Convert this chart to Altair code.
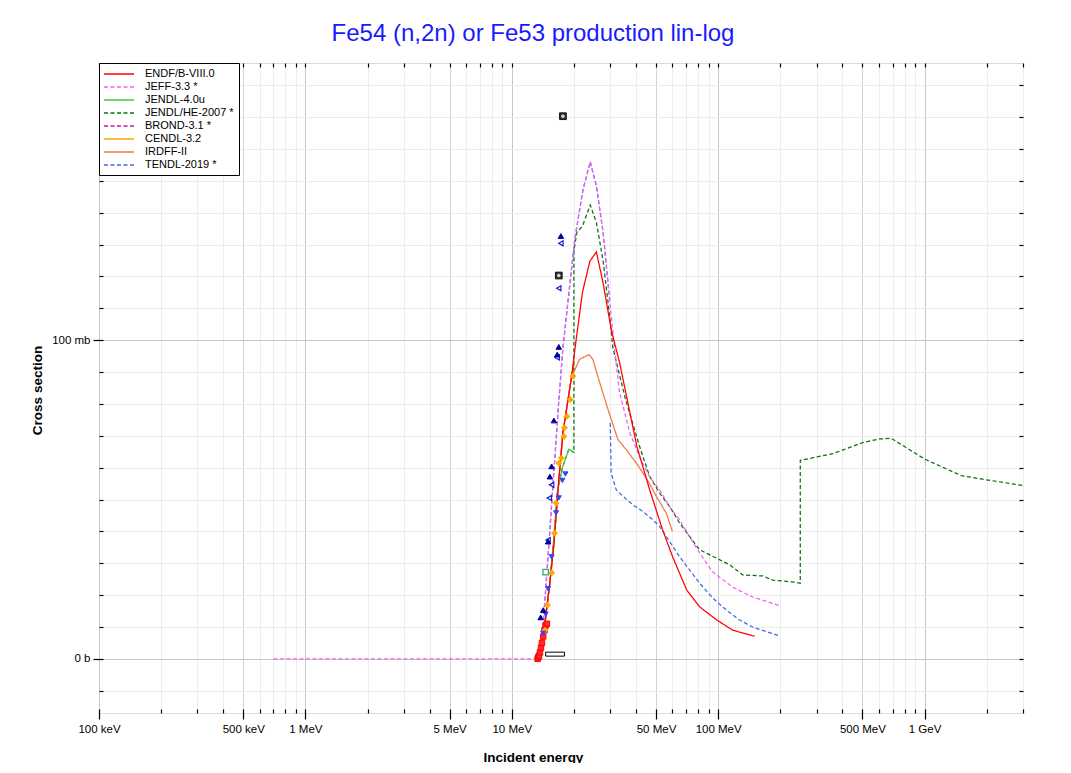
import altair as alt
import pandas as pd

TITLE = "Fe54 (n,2n) or Fe53 production lin-log"
X_TITLE = "Incident energy"
Y_TITLE = "Cross section"

libs = ["ENDF/B-VIII.0", "JEFF-3.3 *", "JENDL-4.0u", "JENDL/HE-2007 *",
        "BROND-3.1 *", "CENDL-3.2", "IRDFF-II", "TENDL-2019 *"]
lib_colors = ["#ff0000", "#f65cf6", "#3ccc3c", "#0b700b",
              "#cc1199", "#ffa500", "#f07848", "#4169e1"]
lib_dash = [[1, 0], [4, 2.5], [1, 0], [4, 2.5], [4, 2.5], [1, 0], [1, 0], [4, 2.5]]

# energies in MeV, cross sections in mb
endf_e = [13.6, 14.4, 15.3, 16.0, 16.9, 17.7, 18.7, 19.4, 20.4, 22.0, 23.9, 25.7, 27.7,
          30.4, 33.3, 40.3, 46.6, 53.8, 60.2, 70.4, 81.4, 98.4, 117.5, 150]
endf_s = [0, 10, 24, 36, 56, 71, 81, 87.6, 99, 115, 124.8, 127.7, 118,
          103, 93, 66.9, 53, 40.5, 32, 21.6, 16.3, 12.2, 9.0, 7.1]

jeff_e = [0.7, 13.6, 13.9, 15.1, 16.9, 17.7, 20.2, 22.1, 24.0, 25.7, 27.7, 29.8, 31.5,
          33.3, 37.3, 41.6, 46.6, 52.1, 58.2, 65.1, 72.7, 81.4, 88, 94, 117.5, 147, 200]
jeff_s = [0, 0, 2.7, 35, 81, 97.7, 131.7, 147, 156, 148.4, 133.9, 112.8, 97,
          83.5, 71, 63.4, 57, 53, 47.7, 43.6, 38.3, 33.2, 30, 27.3, 22.5, 19.4, 16.6]

jendl4_e = [13.6, 14.4, 15.3, 16.0, 16.6, 17.6, 18.9, 20.0]
jendl4_s = [0, 10, 24, 38, 52, 60, 65.8, 64.8]

jendlhe_e = [13.6, 14.4, 15.3, 16.0, 16.6, 17.6, 18.9, 20.0, 20.0, 20.7, 22.0, 24.0, 25.7,
             27.7, 29.8, 30.9, 35.6, 41.6, 46.6, 52.1, 58.2, 65.1, 72.7, 81.4, 98.1, 113.8,
             132, 165, 184, 239, 250, 250, 360, 503, 606, 690, 1000, 1506, 1991, 3000]
jendlhe_s = [0, 10, 24, 38, 52, 60, 65.8, 64.8, 128, 134, 135.8, 142.4, 137,
             125, 107.6, 97.6, 81.4, 66.7, 57.2, 52, 47.8, 42.6, 38.4, 34.2, 31.6, 29.5,
             26.3, 26, 24.7, 24, 23.7, 62.3, 64.4, 67.9, 69, 69.2, 62.7, 57.5, 56.2, 54.4]

brond_e = [13.6, 14.4, 15.3, 16.0, 16.9, 17.7, 18.7, 19.4, 20.0]
brond_s = [0, 10, 24, 36, 56, 71, 81, 87.6, 93]

cendl_e = [13.6, 14.4, 15.3, 16.0, 16.9, 17.7, 18.7, 19.4, 20.0]
cendl_s = [0, 10, 24, 36, 56, 71, 81, 87.6, 92]

irdff_e = [13.6, 14.4, 15.3, 16.0, 16.9, 17.7, 18.7, 19.4, 21.3, 23.7, 24.7, 26.7, 28.7,
           31.5, 32.7, 35.9, 40.2, 44.9, 50.2, 56.1, 60]
irdff_s = [0, 10, 24, 36, 56, 71, 81, 88, 94, 95.5, 94, 86.6, 80,
           71.9, 68.8, 65.6, 61.4, 56.7, 51, 45.7, 40]

# TENDL: two pieces (below 30 MeV it lies under JEFF-3.3)
tendl_e = [13.6, 13.9, 15.1, 16.9, 17.7, 20.2, 22.1, 24.0, 25.7, 27.7, 29.8,
           30.0, 30.3, 32.1, 34.6, 38.7, 43.2, 48.3, 52.1, 58.2, 65.1, 72.7, 81.4, 94.4,
           109.6, 127, 147.5, 198.6]
tendl_s = [0, 2.7, 35, 81, 97.7, 131.7, 147, 156, 148.4, 133.9, 112.8,
           74, 58.3, 53, 51, 48.3, 46.2, 43.6, 41.5, 36.8, 32, 27.9, 23.7, 19,
           15.3, 12.2, 9.9, 7.2]
tendl_seg = [0] * 11 + [1] * 17

series = {
    "ENDF/B-VIII.0": (endf_e, endf_s, None),
    "JEFF-3.3 *": (jeff_e, jeff_s, None),
    "JENDL-4.0u": (jendl4_e, jendl4_s, None),
    "JENDL/HE-2007 *": (jendlhe_e, jendlhe_s, None),
    "BROND-3.1 *": (brond_e, brond_s, None),
    "CENDL-3.2": (cendl_e, cendl_s, None),
    "IRDFF-II": (irdff_e, irdff_s, None),
    "TENDL-2019 *": (tendl_e, tendl_s, tendl_seg),
}
draw_order = ["TENDL-2019 *", "BROND-3.1 *", "CENDL-3.2", "JENDL/HE-2007 *",
              "JENDL-4.0u", "IRDFF-II", "JEFF-3.3 *", "ENDF/B-VIII.0"]

# experimental points (MeV, mb)
expA_e = [17.3, 16.9, 16.6, 16.0, 15.6, 15.3, 15.0, 14.2, 13.8]
expA_s = [132.7, 97.9, 95.5, 74.8, 60.4, 57.2, 36.8, 15.3, 13.0]
expB_e = [17.3, 16.9, 16.6, 15.6, 15.2, 15.0]
expB_s = [130.4, 116.3, 94.6, 54.6, 50.5, 37.3]
expC_e = [18.2, 17.6, 16.9, 16.4, 15.6, 15.0, 14.6, 14.2]
expC_s = [58, 56, 50.5, 45.8, 32, 22, 14, 8]
expD_e = [19.8, 19.2, 18.5, 18.0, 17.9, 17.4, 16.9, 16.4, 16.1, 15.6, 14.9, 14.5]
expD_s = [88.7, 81.4, 76.1, 72.5, 69.8, 63, 61.4, 48.9, 39.4, 27, 16.9, 9]
expE_e = [13.35, 13.45, 13.55, 13.7, 13.85, 14.0, 14.2, 14.4, 14.6, 14.8]
expE_s = [0, 0.5, 1, 2, 3.5, 5, 7, 9, 10.5, 11]
expF_e = [17.7, 16.9]
expF_s = [170.3, 120.3]
expG_e = [14.6]
expG_s = [27.2]
bar_e = [14.6]
bar_e2 = [18.0]
bar_s = [0.85]
bar_s2 = [2.1]

# axis ticks
x_decades = [0.1, 1, 10, 100, 1000]
x_mantissas = [1, 2, 3, 4, 5, 6, 7, 8, 9]
x_ticks = [round(m * d, 6) for d in x_decades for m in x_mantissas if m * d <= 3000]
x_label_vals = [0.1, 0.5, 1, 5, 10, 50, 100, 500, 1000]
x_label_txt = ["100 keV", "500 keV", "1 MeV", "5 MeV", "10 MeV", "50 MeV", "100 MeV", "500 MeV", "1 GeV"]
x_fives = [0.5, 5, 50, 500]
y_ticks = list(range(-10, 190, 10))
y_label_vals = [0, 100]
y_label_txt = ["0 b", "100 mb"]

FONT = "Liberation Sans"

def arr(v):
    return "[" + ",".join(str(a) for a in v) + "]"

x_label_expr = "".join(
    f"datum.value == {v} ? '{t}' : " for v, t in zip(x_label_vals, x_label_txt)) + "''"
y_label_expr = "".join(
    f"datum.value == {v} ? '{t}' : " for v, t in zip(y_label_vals, y_label_txt)) + "''"
x_major_test = f"indexof({arr(x_label_vals)}, datum.value) >= 0"
x_dec_test = f"indexof({arr(x_decades)}, datum.value) >= 0"
x_five_test = f"indexof({arr(x_fives)}, datum.value) >= 0"
y_major_test = f"indexof({arr(y_label_vals)}, datum.value) >= 0"

x_scale = alt.Scale(type="log", domain=[0.1, 3000], nice=False)
y_scale = alt.Scale(domain=[-17, 187], nice=False, zero=False)
color_scale = alt.Scale(domain=libs, range=lib_colors)
dash_scale = alt.Scale(domain=libs, range=lib_dash)

x_axis = alt.Axis(
    values=x_ticks, labelExpr=x_label_expr, title=X_TITLE, grid=True,
    gridColor={"condition": [{"test": x_dec_test, "value": "#c6c6c6"},
                             {"test": x_five_test, "value": "#d2d2d2"}],
               "value": "#ececec"},
    gridWidth=1,
    tickSize={"condition": {"test": x_major_test, "value": 10}, "value": 4},
    tickColor="black", tickWidth=1.2, domain=False, offset=-4,
    labelPadding=4, labelFontSize=11.5, labelFont=FONT, labelColor="black",
    labelFlush=False, labelOverlap=False,
    titleFont=FONT, titleFontSize=13.5, titleFontWeight="bold", titleColor="black",
    titleX=434, titleY=52, titleBaseline="alphabetic", titleAlign="center",
)
y_axis = alt.Axis(
    values=y_ticks, labelExpr=y_label_expr, title=Y_TITLE, grid=True,
    gridColor={"condition": {"test": y_major_test, "value": "#c6c6c6"}, "value": "#ececec"},
    tickSize={"condition": {"test": y_major_test, "value": 10}, "value": 4},
    tickColor="black", tickWidth=1.2, domain=False, offset=-4,
    labelPadding=3, labelFontSize=11.5, labelFont=FONT, labelColor="black",
    labelOverlap=False,
    titleFont=FONT, titleFontSize=13.5, titleFontWeight="bold", titleColor="black",
    titleX=-62, titleY=327, titleBaseline="alphabetic", titleAlign="center",
)

legend = alt.Legend(
    title=None, orient="top-left", offset=0, padding=5,
    strokeColor="black", fillColor="white", cornerRadius=0,
    symbolType="M-3,0H3", symbolSize=100, symbolStrokeWidth=1.5,
    symbolOffset=9, labelOffset=20, rowPadding=2,
    labelFontSize=11, labelFont=FONT, labelColor="black", labelLimit=0,
)

layers = []
first = True
for name in draw_order:
    e, s, seg = series[name]
    df = pd.DataFrame({"E": e, "xs": s, "lib": name, "i": list(range(len(e))),
                       "seg": seg if seg is not None else [0] * len(e)})
    ch = alt.Chart(df).mark_line(strokeWidth=1.25, clip=True).encode(
        x=alt.X("E:Q", scale=x_scale, axis=x_axis if first else None),
        y=alt.Y("xs:Q", scale=y_scale, axis=y_axis if first else None),
        color=alt.Color("lib:N", scale=color_scale, legend=legend),
        strokeDash=alt.StrokeDash("lib:N", scale=dash_scale, legend=legend),
        detail="seg:N",
        order="i:Q",
    )
    layers.append(ch)
    first = False

def pts(e, s, shape, fill, stroke, size=30, filled=True, sw=1):
    df = pd.DataFrame({"E": e, "xs": s})
    return alt.Chart(df).mark_point(
        shape=shape, filled=filled, fill=fill, stroke=stroke, size=size,
        strokeWidth=sw, opacity=1, fillOpacity=1, clip=True,
    ).encode(
        x=alt.X("E:Q", scale=x_scale, axis=None),
        y=alt.Y("xs:Q", scale=y_scale, axis=None),
    )

bar_df = pd.DataFrame({"E": bar_e, "E2": bar_e2, "s": bar_s, "s2": bar_s2})
bar = alt.Chart(bar_df).mark_rect(fill="white", stroke="black", strokeWidth=1).encode(
    x=alt.X("E:Q", scale=x_scale, axis=None), x2="E2:Q",
    y=alt.Y("s:Q", scale=y_scale, axis=None), y2="s2:Q",
)

layers += [
    bar,
    pts(expE_e, expE_s, "square", "#ff2a2a", "#ff0000", size=30),
    pts(expD_e, expD_s, "diamond", "#ffaa00", "#ffa500", size=35),
    pts(expC_e, expC_s, "triangle-down", "#3344ff", "#3344ff", size=25),
    pts(expB_e, expB_s, "triangle-left", "white", "#1a1acc", size=25, filled=False, sw=1.2),
    pts(expA_e, expA_s, "triangle-up", "#00009a", "#00009a", size=30),
    pts(expG_e, expG_s, "square", "white", "#33aa66", size=30, filled=False, sw=1.3),
    pts(expF_e, expF_s, "square", "#333333", "#111111", size=45),
    pts(expF_e, expF_s, "cross", "#dddddd", "#dddddd", size=7),
]

# mirrored ticks on top and right
mirror = alt.Chart(pd.DataFrame({"E": [1.0], "xs": [0.0]})).mark_point(opacity=0).encode(
    x=alt.X("E:Q", scale=x_scale, axis=alt.Axis(
        orient="top", values=x_ticks, labels=False, title=None, grid=False,
        ticks=True, tickSize=4, tickColor="black", tickWidth=1.2, domain=False, offset=-4)),
    y=alt.Y("xs:Q", scale=y_scale, axis=alt.Axis(
        orient="right", values=y_ticks, labels=False, title=None, grid=False,
        ticks=True, tickSize=4, tickColor="black", tickWidth=1.2, domain=False, offset=-4)),
)
layers.append(mirror)

chart = alt.layer(*layers).resolve_axis(x="independent", y="independent").properties(
    width=924, height=650,
    padding={"left": 91, "top": 55, "right": 40, "bottom": 50},
    autosize=alt.AutoSizeParams(type="none"),
    title=alt.TitleParams(
        text=TITLE, fontSize=24, font=FONT, fontWeight="normal", color="#1a1aff",
        anchor="middle", frame="group", dx=-28, dy=19, offset=16, baseline="alphabetic",
    ),
).configure_view(stroke="black", strokeWidth=1.6).configure(background="white")

chart.save("out.html", embed_options={"renderer": "svg", "actions": False})
